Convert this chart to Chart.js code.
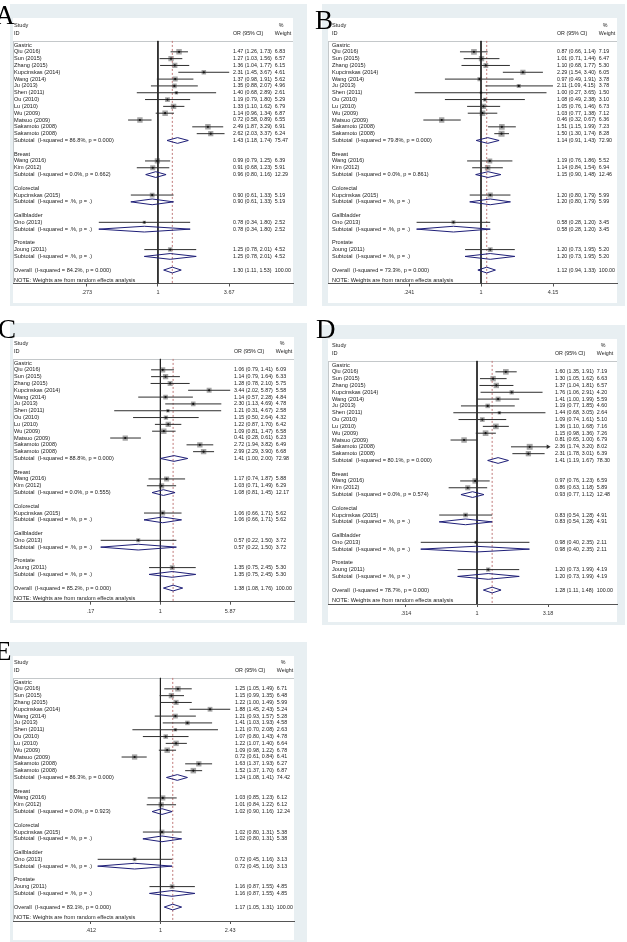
<!DOCTYPE html>
<html lang="en">
<head>
<meta charset="UTF-8">
<title>Forest plots A-E</title>
<script src="https://cdn.jsdelivr.net/npm/chart.js"></script>
<style>
  body { margin: 0; background: #fff; width: 627px; height: 942px; position: relative; overflow: hidden; }
  canvas { position: absolute; }
  .tag { position: absolute; font-family: "Liberation Serif", "Times New Roman", serif; font-size: 27px; line-height: 27px; color: #000; }
</style>
</head>
<body>
<canvas id="chartA"></canvas>
<canvas id="chartB"></canvas>
<canvas id="chartC"></canvas>
<canvas id="chartD"></canvas>
<canvas id="chartE"></canvas>
<div class="tag" style="left:-5px;top:2px">A</div>
<div class="tag" style="left:315px;top:7px">B</div>
<div class="tag" style="left:-2px;top:316px">C</div>
<div class="tag" style="left:316px;top:316px">D</div>
<div class="tag" style="left:-5px;top:638px">E</div>
<script>
// studies, same in every panel
const groupNames = ['Gastric', 'Breast', 'Colorectal', 'Gallbladder', 'Prostate'];
const groupSizes = [13, 2, 1, 1, 1];
const studyNames = ['Qiu (2016)', 'Sun (2015)', 'Zhang (2015)', 'Kupcinskas (2014)', 'Wang (2014)', 'Ju (2013)',
  'Shen (2011)', 'Ou (2010)', 'Lu (2010)', 'Wu (2009)', 'Matsuo (2009)', 'Sakamoto (2008)', 'Sakamoto (2008)',
  'Wang (2016)', 'Kim (2012)', 'Kupcinskas (2015)', 'Ono (2013)', 'Joung (2011)'];

// panel A
const orA = [1.47, 1.27, 1.36, 2.31, 1.37, 1.35, 1.40, 1.19, 1.33, 1.14, 0.72, 2.49, 2.62, 0.99, 0.91, 0.90, 0.78, 1.25];
const loA = [1.26, 1.03, 1.04, 1.45, 0.98, 0.88, 0.68, 0.79, 1.10, 0.96, 0.58, 1.87, 2.03, 0.79, 0.68, 0.61, 0.34, 0.78];
const hiA = [1.73, 1.56, 1.77, 3.67, 1.91, 2.07, 2.89, 1.80, 1.62, 1.34, 0.89, 3.29, 3.37, 1.25, 1.23, 1.33, 1.80, 2.01];
const wtA = [6.83, 6.57, 6.15, 4.61, 5.62, 4.96, 2.61, 5.29, 6.79, 6.87, 6.55, 6.91, 6.24, 6.39, 5.91, 5.19, 2.52, 4.52];
// subtotals (5 groups) then overall
const poolOrA = [1.43, 0.96, 0.90, 0.78, 1.25, 1.30];
const poolLoA = [1.18, 0.80, 0.61, 0.34, 0.78, 1.11];
const poolHiA = [1.74, 1.16, 1.33, 1.80, 2.01, 1.53];
const poolWtA = [75.47, 12.29, 5.19, 2.52, 4.52, 100.00];
const i2A = ['86.8', '0.0', '', '', '', '84.2'];
const pA = ['0.000', '0.662', '', '', '', '0.000'];
const ticksA = [0.273, 1, 3.67];
const tickLabelsA = ['.273', '1', '3.67'];

// panel B
const orB = [0.87, 1.01, 1.10, 2.29, 0.97, 2.11, 1.00, 1.08, 1.05, 1.03, 0.46, 1.51, 1.50, 1.19, 1.14, 1.20, 0.58, 1.20];
const loB = [0.66, 0.71, 0.68, 1.54, 0.49, 1.09, 0.27, 0.49, 0.76, 0.77, 0.32, 1.15, 1.30, 0.76, 0.84, 0.80, 0.28, 0.73];
const hiB = [1.14, 1.44, 1.77, 3.40, 1.91, 4.15, 3.65, 2.38, 1.46, 1.38, 0.67, 1.99, 1.74, 1.86, 1.54, 1.79, 1.20, 1.95];
const wtB = [7.19, 6.47, 5.30, 6.05, 3.78, 3.78, 1.50, 3.10, 6.73, 7.12, 6.36, 7.23, 8.28, 5.52, 6.94, 5.99, 3.45, 5.20];
const poolOrB = [1.14, 1.15, 1.20, 0.58, 1.20, 1.12];
const poolLoB = [0.91, 0.90, 0.80, 0.28, 0.73, 0.94];
const poolHiB = [1.43, 1.48, 1.79, 1.20, 1.95, 1.33];
const poolWtB = [72.90, 12.46, 5.99, 3.45, 5.20, 100.00];
const i2B = ['79.8', '0.0', '', '', '', '73.3'];
const pB = ['0.000', '0.861', '', '', '', '0.000'];
const ticksB = [0.241, 1, 4.15];
const tickLabelsB = ['.241', '1', '4.15'];

// panel C
const orC = [1.06, 1.14, 1.28, 3.44, 1.14, 2.30, 1.21, 1.15, 1.22, 1.09, 0.41, 2.72, 2.99, 1.17, 1.03, 1.06, 0.57, 1.35];
const loC = [0.79, 0.79, 0.78, 2.02, 0.57, 1.13, 0.31, 0.50, 0.87, 0.81, 0.28, 1.94, 2.29, 0.74, 0.71, 0.66, 0.22, 0.75];
const hiC = [1.41, 1.64, 2.10, 5.87, 2.28, 4.69, 4.67, 2.64, 1.70, 1.47, 0.61, 3.82, 3.90, 1.87, 1.49, 1.71, 1.50, 2.45];
const wtC = [6.09, 6.33, 5.75, 5.58, 4.84, 4.78, 2.58, 4.32, 6.42, 6.58, 6.23, 6.49, 6.68, 5.88, 6.29, 5.62, 3.72, 5.30];
const poolOrC = [1.41, 1.08, 1.06, 0.57, 1.35, 1.38];
const poolLoC = [1.00, 0.81, 0.66, 0.22, 0.75, 1.08];
const poolHiC = [2.00, 1.45, 1.71, 1.50, 2.45, 1.76];
const poolWtC = [72.98, 12.17, 5.62, 3.72, 5.30, 100.00];
const i2C = ['88.8', '0.0', '', '', '', '85.2'];
const pC = ['0.000', '0.555', '', '', '', '0.000'];
const ticksC = [0.17, 1, 5.87];
const tickLabelsC = ['.17', '1', '5.87'];

// panel D
const orD = [1.60, 1.30, 1.37, 1.76, 1.41, 1.19, 1.44, 1.09, 1.36, 1.15, 0.81, 2.36, 2.31, 0.97, 0.86, 0.83, 0.98, 1.20];
const loD = [1.35, 1.05, 1.04, 1.06, 1.00, 0.77, 0.68, 0.74, 1.10, 0.98, 0.65, 1.74, 1.78, 0.76, 0.63, 0.54, 0.40, 0.73];
const hiD = [1.91, 1.62, 1.81, 2.91, 1.99, 1.85, 3.05, 1.61, 1.68, 1.36, 1.00, 3.20, 3.01, 1.23, 1.18, 1.28, 2.35, 1.99];
const wtD = [7.19, 6.63, 6.57, 4.20, 5.59, 4.60, 2.64, 5.10, 7.16, 7.26, 6.79, 8.02, 6.39, 6.59, 5.89, 4.91, 2.11, 4.19];
const poolOrD = [1.41, 0.93, 0.83, 0.98, 1.20, 1.28];
const poolLoD = [1.19, 0.77, 0.54, 0.40, 0.73, 1.11];
const poolHiD = [1.67, 1.12, 1.28, 2.35, 1.99, 1.48];
const poolWtD = [78.30, 12.48, 4.91, 2.11, 4.19, 100.00];
const i2D = ['80.1', '0.0', '', '', '', '78.7'];
const pD = ['0.000', '0.574', '', '', '', '0.000'];
const ticksD = [0.314, 1, 3.18];
const tickLabelsD = ['.314', '1', '3.18'];

// panel E
const orE = [1.25, 1.15, 1.22, 1.88, 1.21, 1.41, 1.21, 1.07, 1.22, 1.09, 0.72, 1.63, 1.52, 1.03, 1.01, 1.02, 0.72, 1.16];
const loE = [1.05, 0.99, 1.00, 1.45, 0.93, 1.03, 0.70, 0.80, 1.07, 0.98, 0.61, 1.37, 1.37, 0.85, 0.84, 0.80, 0.45, 0.87];
const hiE = [1.49, 1.35, 1.49, 2.43, 1.57, 1.93, 2.08, 1.43, 1.40, 1.22, 0.84, 1.93, 1.70, 1.23, 1.22, 1.31, 1.16, 1.55];
const wtE = [6.71, 6.48, 5.99, 5.24, 5.28, 4.58, 2.63, 4.78, 6.64, 6.78, 6.41, 6.27, 6.87, 6.12, 6.12, 5.38, 3.13, 4.85];
const poolOrE = [1.24, 1.02, 1.02, 0.72, 1.16, 1.17];
const poolLoE = [1.08, 0.90, 0.80, 0.45, 0.87, 1.05];
const poolHiE = [1.41, 1.16, 1.31, 1.16, 1.55, 1.31];
const poolWtE = [74.42, 12.24, 5.38, 3.13, 4.85, 100.00];
const i2E = ['86.3', '0.0', '', '', '', '83.1'];
const pE = ['0.000', '0.923', '', '', '', '0.000'];
const ticksE = [0.412, 1, 2.43];
const tickLabelsE = ['.412', '1', '2.43'];

const FONT = '"Liberation Sans", Arial, sans-serif';
const TXT = 5.6;      // study labels
const NUM = 5.3;      // OR / weight columns
const ROW_H = 6.82;
const AXIS_H = 16;
const BG = '#e8eff2';
const NAVY = '#1f1f78';

function het(i2, p) {
  return '(I-squared = ' + (i2 || '.') + '%, p = ' + (p || '.') + ')';
}

function buildRows(d) {
  const rows = [];
  let r = 0, k = 0;
  groupNames.forEach((name, gi) => {
    rows.push({ kind: 'group', r: r++, label: name });
    for (let j = 0; j < groupSizes[gi]; j++, k++) {
      rows.push({ kind: 'study', r: r++, label: studyNames[k], or: d.or[k], lo: d.lo[k], hi: d.hi[k], w: d.wt[k] });
    }
    rows.push({ kind: 'pool', r: r++, label: 'Subtotal  ' + het(d.i2[gi], d.p[gi]),
      or: d.poolOr[gi], lo: d.poolLo[gi], hi: d.poolHi[gi], w: d.poolWt[gi] });
    r++;
  });
  rows.push({ kind: 'pool', overall: true, r: r, label: 'Overall  ' + het(d.i2[5], d.p[5]),
    or: d.poolOr[5], lo: d.poolLo[5], hi: d.poolHi[5], w: d.poolWt[5] });
  rows.push({ kind: 'note', r: r + 1.5, label: 'NOTE: Weights are from random effects analysis' });
  return rows;
}

function makePanel(id, d, g) {
  const cv = document.getElementById(id);
  cv.width = g.w; cv.height = g.h;
  cv.style.left = g.x + 'px'; cv.style.top = g.y + 'px';

  const ppu = (g.tickX - g.oneX) / Math.log(d.ticks[2]);
  const xmin = Math.exp(-(g.oneX - g.L) / ppu);
  const xmax = Math.exp((g.R - g.oneX) / ppu);
  const rowTop = (g.T - g.rowY) / ROW_H;
  const rowAxis = (g.axisY - g.rowY) / ROW_H;
  const rowSep = -0.6;

  const rows = buildRows(d);
  const studies = rows.filter(o => o.kind === 'study');
  const pools = rows.filter(o => o.kind === 'pool');
  const overall = pools[pools.length - 1];
  const tmin = d.ticks[0], tmax = d.ticks[2];
  const gap = { x: null, y: null };
  const H = 0.42;

  const ciData = studies.flatMap(s => [{ x: Math.max(s.lo, tmin), y: s.r }, { x: Math.min(s.hi, tmax), y: s.r }, gap]);
  const diaData = pools.flatMap(s => [{ x: s.lo, y: s.r }, { x: s.or, y: s.r - H }, { x: s.hi, y: s.r },
    { x: s.or, y: s.r + H }, { x: s.lo, y: s.r }, gap]);
  const arrows = studies.filter(s => s.hi > tmax).map(s => ({ x: tmax, y: s.r }));

  const frame = {
    id: 'frame',
    beforeDraw(chart) {
      const c = chart.ctx, y = chart.scales.y;
      c.save();
      c.fillStyle = BG;
      c.fillRect(0, 0, g.w, g.h);
      c.fillStyle = '#fff';
      c.fillRect(g.L - g.x, g.T - g.y, g.R - g.L, g.Bw - g.T);
      const ys = Math.round(y.getPixelForValue(rowSep)) + 0.5;
      c.strokeStyle = '#c4c8ca';
      c.lineWidth = 1;
      c.beginPath();
      c.moveTo(g.L - g.x, ys); c.lineTo(g.R - g.x, ys);
      c.moveTo(g.L - g.x + 0.5, ys); c.lineTo(g.L - g.x + 0.5, g.axisY - g.y);
      c.stroke();
      c.restore();
    },
    afterDraw(chart) {
      const c = chart.ctx, y = chart.scales.y;
      const lx = g.labelX - g.x, ox = g.orX - g.x;
      c.save();
      c.fillStyle = '#1a1a1a';
      c.textBaseline = 'middle';
      c.textAlign = 'left';
      const put = (t, x, r) => c.fillText(t, x, y.getPixelForValue(r));
      c.font = NUM + 'px ' + FONT;
      const wx = ox + c.measureText('0.00 (0.00, 0.00)').width + NUM * 0.55;
      put('OR (95% CI)', ox, -1.75);
      put('%', wx + 4, -2.9);
      put('Weight', wx, -1.75);
      rows.forEach(o => {
        if (o.kind === 'study' || o.kind === 'pool') {
          put(o.or.toFixed(2) + ' (' + o.lo.toFixed(2) + ', ' + o.hi.toFixed(2) + ')', ox, o.r);
          put(o.w.toFixed(2), wx, o.r);
        }
      });
      c.font = TXT + 'px ' + FONT;
      put('Study', lx, -2.9);
      put('ID', lx, -1.75);
      rows.forEach(o => put(o.label, lx, o.r));
      c.restore();
    }
  };

  return new Chart(cv, {
    type: 'scatter',
    data: {
      datasets: [
        { label: 'boxes', order: 6, data: studies.map(s => ({ x: s.or, y: s.r, w: s.w })),
          pointStyle: 'rect', backgroundColor: 'rgba(150,150,150,0.85)', borderWidth: 0,
          pointRadius: c => 2.1 * Math.sqrt(c.raw.w) / Math.SQRT2, pointHoverRadius: 0 },
        { label: 'null', order: 5, data: [{ x: 1, y: rowSep }, { x: 1, y: rowAxis }],
          showLine: true, borderColor: '#222', borderWidth: 1, pointRadius: 0 },
        { label: 'overall', order: 4, data: [{ x: overall.or, y: rowSep }, { x: overall.or, y: rowAxis }],
          showLine: true, borderColor: '#c07a7a', borderWidth: 1, borderDash: [2, 2], pointRadius: 0 },
        { label: 'ci', order: 3, data: ciData, showLine: true, spanGaps: false,
          borderColor: '#2e2e2e', borderWidth: 1, pointRadius: 0 },
        { label: 'diamonds', order: 2, data: diaData, showLine: true, spanGaps: false,
          borderColor: NAVY, borderWidth: 1, pointRadius: 0, fill: false },
        { label: 'dots', order: 1, data: studies.map(s => ({ x: s.or, y: s.r })),
          pointStyle: 'circle', backgroundColor: '#111', borderWidth: 0, pointRadius: 1.1, pointHoverRadius: 0 },
        { label: 'arrows', order: 0, data: arrows, pointStyle: 'triangle', rotation: 90,
          backgroundColor: '#2e2e2e', borderWidth: 0, pointRadius: 2.6, pointHoverRadius: 0 }
      ]
    },
    options: {
      responsive: false,
      animation: false,
      devicePixelRatio: 1,
      events: [],
      layout: { padding: { left: g.L - g.x, right: g.x + g.w - g.R, top: g.T - g.y,
        bottom: g.y + g.h - g.axisY - AXIS_H } },
      elements: { line: { tension: 0 } },
      plugins: { legend: { display: false }, tooltip: { enabled: false } },
      scales: {
        x: {
          type: 'logarithmic', min: xmin, max: xmax, bounds: 'data',
          afterBuildTicks: s => { s.ticks = d.ticks.map(v => ({ value: v })); },
          afterFit: s => { s.height = AXIS_H; },
          ticks: { autoSkip: false, maxRotation: 0, padding: 3, color: '#333',
            font: { family: FONT, size: 5.5 }, callback: (v, i) => d.tickLabels[i] },
          grid: { display: true, drawOnChartArea: false, drawTicks: true, tickLength: 3, color: '#555' },
          border: { display: true, color: '#555', width: 1 }
        },
        y: { type: 'linear', display: false, reverse: true, min: rowTop, max: rowAxis }
      }
    },
    plugins: [frame]
  });
}

const panelA = { or: orA, lo: loA, hi: hiA, wt: wtA, poolOr: poolOrA, poolLo: poolLoA, poolHi: poolHiA, poolWt: poolWtA, i2: i2A, p: pA, ticks: ticksA, tickLabels: tickLabelsA };
const panelB = { or: orB, lo: loB, hi: hiB, wt: wtB, poolOr: poolOrB, poolLo: poolLoB, poolHi: poolHiB, poolWt: poolWtB, i2: i2B, p: pB, ticks: ticksB, tickLabels: tickLabelsB };
const panelC = { or: orC, lo: loC, hi: hiC, wt: wtC, poolOr: poolOrC, poolLo: poolLoC, poolHi: poolHiC, poolWt: poolWtC, i2: i2C, p: pC, ticks: ticksC, tickLabels: tickLabelsC };
const panelD = { or: orD, lo: loD, hi: hiD, wt: wtD, poolOr: poolOrD, poolLo: poolLoD, poolHi: poolHiD, poolWt: poolWtD, i2: i2D, p: pD, ticks: ticksD, tickLabels: tickLabelsD };
const panelE = { or: orE, lo: loE, hi: hiE, wt: wtE, poolOr: poolOrE, poolLo: poolLoE, poolHi: poolHiE, poolWt: poolWtE, i2: i2E, p: pE, ticks: ticksE, tickLabels: tickLabelsE };

makePanel('chartA', panelA, { x: 10, y: 4, w: 297, h: 302, L: 13, R: 293, T: 18, Bw: 303, rowY: 45, axisY: 283.5, oneX: 157.5, tickX: 229, labelX: 14, orX: 233, wR: 287 });
makePanel('chartB', panelB, { x: 322, y: 4, w: 303, h: 302, L: 328, R: 617, T: 18, Bw: 303, rowY: 45, axisY: 283.5, oneX: 481, tickX: 553, labelX: 332, orX: 557, wR: 608 });
makePanel('chartC', panelC, { x: 10, y: 323, w: 297, h: 300, L: 13, R: 294, T: 337, Bw: 620, rowY: 363, axisY: 601.7, oneX: 160, tickX: 230, labelX: 14, orX: 234, wR: 285 });
makePanel('chartD', panelD, { x: 322, y: 325, w: 303, h: 300, L: 328, R: 617, T: 339, Bw: 622, rowY: 365, axisY: 604, oneX: 477, tickX: 548, labelX: 332, orX: 555, wR: 609 });
makePanel('chartE', panelE, { x: 10, y: 642, w: 297, h: 300, L: 13, R: 294, T: 656, Bw: 940, rowY: 682, axisY: 921, oneX: 160, tickX: 230, labelX: 14, orX: 235, wR: 286 });
</script>
</body>
</html>
